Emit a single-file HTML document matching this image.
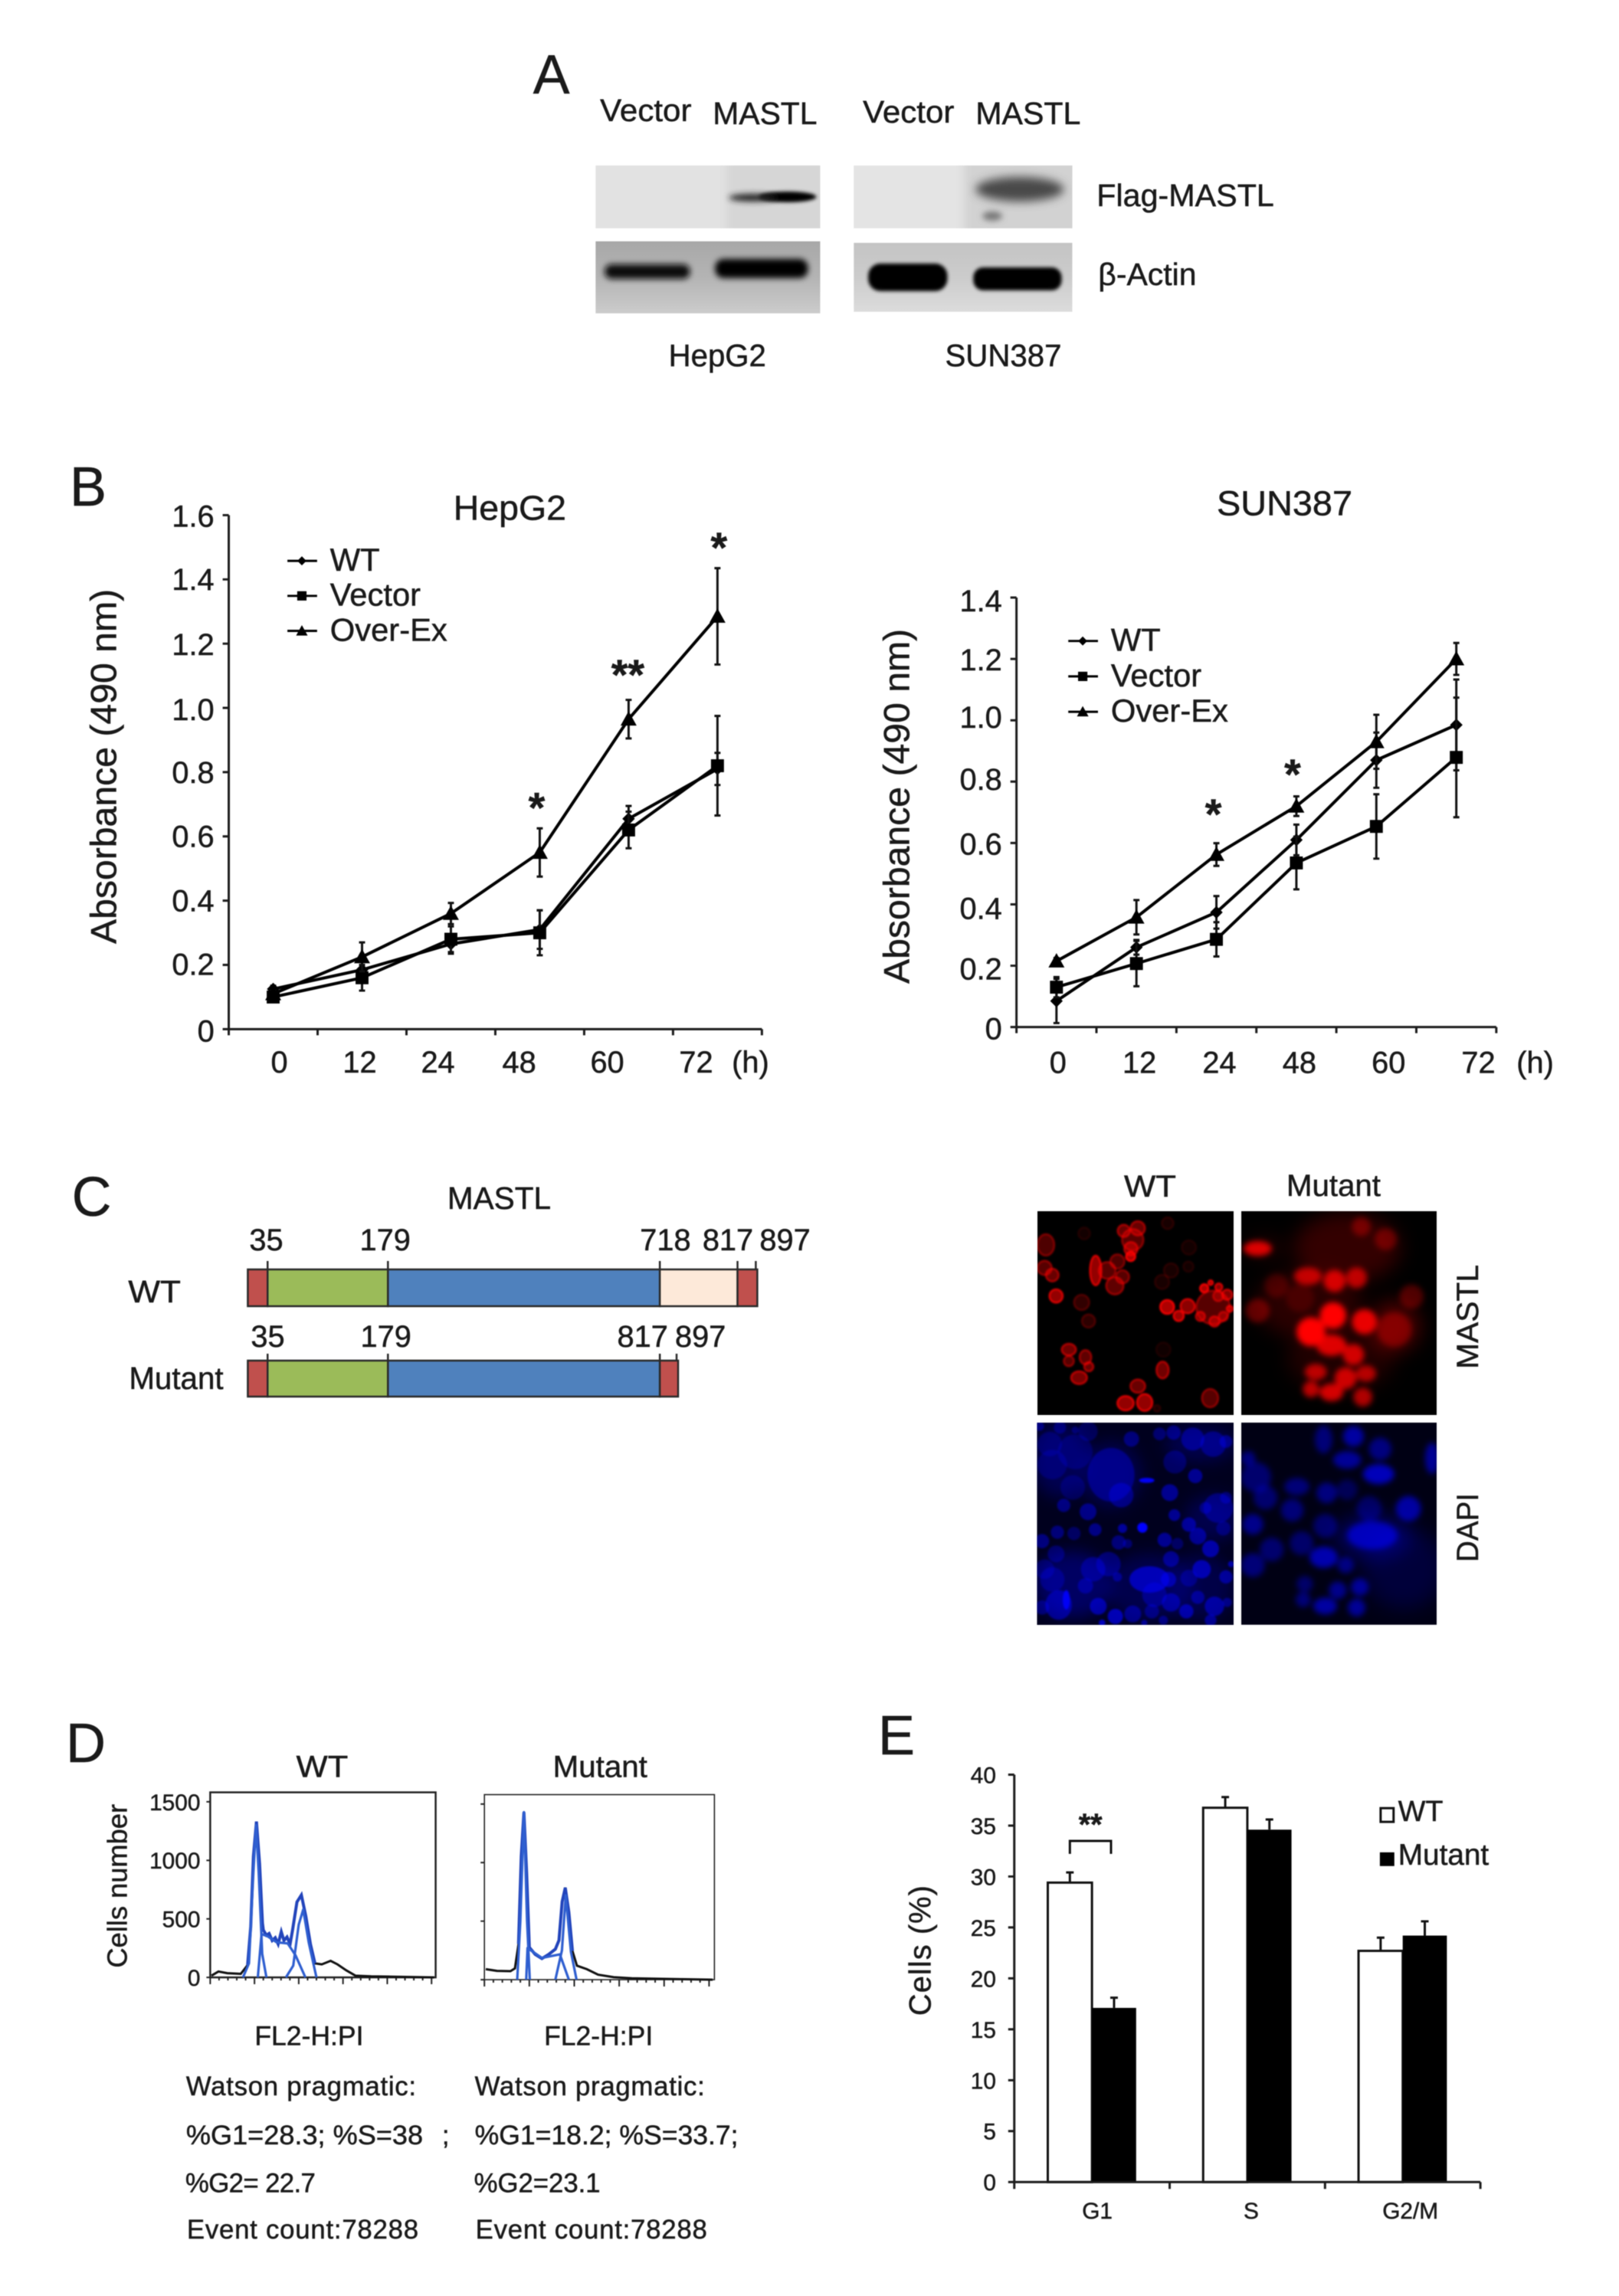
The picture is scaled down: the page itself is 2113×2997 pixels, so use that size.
<!DOCTYPE html>
<html lang="en">
<head>
<meta charset="utf-8">
<title>MASTL figure</title>
<style>
html,body{margin:0;padding:0;background:#fff;}
#figure{display:block;width:2113px;height:2997px;filter:blur(0.6px);}
text{font-family:"Liberation Sans",Arial,sans-serif;fill:#1a1a1a;stroke:#1a1a1a;stroke-width:0.5px;}
</style>
</head>
<body>
<svg id="figure" xmlns="http://www.w3.org/2000/svg" width="2113" height="2997" viewBox="0 0 2113 2997">
<defs>
<filter id="b2" x="-50%" y="-100%" width="200%" height="300%"><feGaussianBlur stdDeviation="2.5"/></filter>
<filter id="b3" x="-50%" y="-100%" width="200%" height="300%"><feGaussianBlur stdDeviation="4"/></filter>
<filter id="b6" x="-50%" y="-100%" width="200%" height="300%"><feGaussianBlur stdDeviation="6"/></filter>
<filter id="crisp" x="-20%" y="-20%" width="140%" height="140%"><feGaussianBlur stdDeviation="3.2"/></filter>
<filter id="soft3" x="-30%" y="-30%" width="160%" height="160%"><feGaussianBlur stdDeviation="9"/></filter>
<filter id="cloud" x="-50%" y="-50%" width="200%" height="200%"><feGaussianBlur stdDeviation="30"/></filter>
<clipPath id="clipR1"><rect x="12" y="18" width="768" height="798"/></clipPath>
<clipPath id="clipB1"><rect x="10" y="6" width="770" height="792"/></clipPath>
<clipPath id="clipR2"><rect x="683" y="173" width="622" height="649"/></clipPath>
<clipPath id="clipB2"><rect x="683" y="846" width="622" height="644"/></clipPath>
<clipPath id="clipBlot1"><rect x="778" y="216" width="295" height="82"/></clipPath>
<clipPath id="clipBlot2"><rect x="778" y="315" width="295" height="94"/></clipPath>
<clipPath id="clipBlot3"><rect x="1117" y="216" width="287" height="82"/></clipPath>
<clipPath id="clipBlot4"><rect x="1117" y="317" width="287" height="90"/></clipPath>
<linearGradient id="gradBlot2" x1="0" y1="0" x2="0" y2="1"><stop offset="0" stop-color="#a8a8a8"/><stop offset="0.5" stop-color="#b4b4b4"/><stop offset="1" stop-color="#cccccc"/></linearGradient>
<linearGradient id="gradBlot4" x1="0" y1="0" x2="0" y2="1"><stop offset="0" stop-color="#c4c4c4"/><stop offset="0.5" stop-color="#cccccc"/><stop offset="1" stop-color="#dcdcdc"/></linearGradient>
</defs>
<rect x="0" y="0" width="2113" height="2997" fill="#ffffff"/>

<g transform="translate(3.9,0) scale(0.994,1)">
<text x="696" y="122" font-size="72">A</text>
<text x="784" y="158" font-size="41" textLength="120" lengthAdjust="spacingAndGlyphs">Vector</text>
<text x="932" y="162" font-size="41" textLength="137" lengthAdjust="spacingAndGlyphs">MASTL</text>
<text x="1129" y="160" font-size="41" textLength="120" lengthAdjust="spacingAndGlyphs">Vector</text>
<text x="1277" y="162" font-size="41" textLength="138" lengthAdjust="spacingAndGlyphs">MASTL</text>
<g clip-path="url(#clipBlot1)">
<rect x="778" y="216" width="295" height="82" fill="#e2e2e2"/>
<rect x="950" y="200" width="140" height="110" fill="#d6d6d6" filter="url(#b6)"/>
<ellipse cx="1030" cy="257" rx="38" ry="7" fill="#000" filter="url(#b2)"/>
<ellipse cx="985" cy="258" rx="32" ry="5" fill="#222" filter="url(#b3)"/>
</g>
<g clip-path="url(#clipBlot2)">
<rect x="778" y="315" width="295" height="94" fill="url(#gradBlot2)"/>
<rect x="790" y="345" width="112" height="19" rx="9" fill="#111" filter="url(#b3)"/>
<rect x="935" y="338" width="122" height="25" rx="11" fill="#000" filter="url(#b3)"/>
</g>
<g clip-path="url(#clipBlot3)">
<rect x="1117" y="216" width="287" height="82" fill="#e4e4e4"/>
<rect x="1262" y="200" width="160" height="110" fill="#d2d2d2" filter="url(#b6)"/>
<ellipse cx="1335" cy="247" rx="58" ry="16" fill="#4a4a4a" filter="url(#b6)"/>
<ellipse cx="1299" cy="282" rx="13" ry="6" fill="#777" filter="url(#b3)"/>
</g>
<g clip-path="url(#clipBlot4)">
<rect x="1117" y="317" width="287" height="90" fill="url(#gradBlot4)"/>
<rect x="1136" y="344" width="104" height="36" rx="16" fill="#000" filter="url(#b2)"/>
<rect x="1274" y="349" width="116" height="30" rx="13" fill="#000" filter="url(#b2)"/>
</g>
<text x="1436" y="269" font-size="41" textLength="233" lengthAdjust="spacingAndGlyphs">Flag-MASTL</text>
<text x="1438" y="372" font-size="41" textLength="129" lengthAdjust="spacingAndGlyphs">β-Actin</text>
<text x="874" y="478" font-size="41" textLength="128" lengthAdjust="spacingAndGlyphs">HepG2</text>
<text x="1237" y="478" font-size="41" textLength="153" lengthAdjust="spacingAndGlyphs">SUN387</text>
</g>

<text x="91" y="660" font-size="72">B</text>
<g id="chartHep" transform="translate(0.36,3.48) scale(0.994)"></g>
<g id="chartSun" transform="translate(6.6,3.72) scale(0.994)"></g>

<g transform="translate(0.36,0) scale(0.994,1)">
<text x="94" y="1587" font-size="72">C</text>
<text x="587" y="1578" font-size="41" textLength="136" lengthAdjust="spacingAndGlyphs">MASTL</text>
<g font-size="40">
<text x="327" y="1632">35</text>
<text x="472" y="1632">179</text>
<text x="840" y="1632">718</text>
<text x="922" y="1632">817</text>
<text x="997" y="1632">897</text>
</g>
<text x="168" y="1700" font-size="41" textLength="69" lengthAdjust="spacingAndGlyphs">WT</text>
<g stroke="#2a2a2a" stroke-width="2.5">
<rect x="325" y="1657" width="26" height="48" fill="#c0504d"/>
<rect x="351" y="1657" width="158" height="48" fill="#9bbb59"/>
<rect x="509" y="1657" width="357" height="48" fill="#4f81bd"/>
<rect x="866" y="1657" width="102" height="48" fill="#fde9d9"/>
<rect x="968" y="1657" width="26" height="48" fill="#c0504d"/>
<path fill="none" d="M351 1646V1657M509 1646V1657M866 1646V1657M968 1646V1657M992 1646V1657"/>
</g>
<g font-size="40">
<text x="329" y="1758">35</text>
<text x="473" y="1758">179</text>
<text x="810" y="1758">817</text>
<text x="886" y="1758">897</text>
</g>
<text x="169" y="1813" font-size="41" textLength="124" lengthAdjust="spacingAndGlyphs">Mutant</text>
<g stroke="#2a2a2a" stroke-width="2.5">
<rect x="325" y="1776" width="26" height="47" fill="#c0504d"/>
<rect x="351" y="1776" width="158" height="47" fill="#9bbb59"/>
<rect x="509" y="1776" width="357" height="47" fill="#4f81bd"/>
<rect x="866" y="1776" width="24" height="47" fill="#c0504d"/>
<path fill="none" d="M351 1767V1776M509 1767V1776M866 1767V1776M888 1767V1776"/>
</g>
</g>

<g>
<text x="1467" y="1562" font-size="40" textLength="68" lengthAdjust="spacingAndGlyphs">WT</text>
<text x="1679" y="1561" font-size="40" textLength="123" lengthAdjust="spacingAndGlyphs">Mutant</text>
<g transform="translate(1350,1575) scale(0.33333)">
<g id="panelR1" clip-path="url(#clipR1)"><rect x="12" y="18" width="768" height="798" fill="#000"/></g>
</g>
<g transform="translate(1350,1855) scale(0.33333)">
<g id="panelB1" clip-path="url(#clipB1)"><rect x="10" y="6" width="770" height="792" fill="#00001e"/></g>
</g>
<g transform="translate(1340,1510) scale(0.41)">
<g id="panelR2" clip-path="url(#clipR2)"><rect x="683" y="173" width="622" height="649" fill="#000"/></g>
<g id="panelB2" clip-path="url(#clipB2)"><rect x="683" y="846" width="622" height="644" fill="#000014"/></g>
</g>
<text transform="translate(1929,1719) rotate(-90)" text-anchor="middle" font-size="40" textLength="136" lengthAdjust="spacingAndGlyphs">MASTL</text>
<text transform="translate(1929,1994) rotate(-90)" text-anchor="middle" font-size="40" textLength="90" lengthAdjust="spacingAndGlyphs">DAPI</text>
</g>

<text x="86" y="2300" font-size="72">D</text>
<g id="histWT" transform="translate(2,12.6) scale(0.994)"></g>
<g id="histMut" transform="translate(2,12.6) scale(0.994)"></g>
<g transform="translate(0.36,14.6) scale(0.994)">
<text transform="translate(166,2462) rotate(-90)" text-anchor="middle" font-size="36" textLength="215" lengthAdjust="spacingAndGlyphs">Cells number</text>
<g font-size="35">
<text x="334" y="2671" textLength="143" lengthAdjust="spacingAndGlyphs">FL2-H:PI</text>
<text x="244" y="2737" textLength="302" lengthAdjust="spacing">Watson pragmatic:</text>
<text x="244" y="2801" textLength="311" lengthAdjust="spacingAndGlyphs">%G1=28.3; %S=38</text>
<text x="580" y="2801">;</text>
<text x="243" y="2864" textLength="171" lengthAdjust="spacing">%G2= 22.7</text>
<text x="245" y="2925" textLength="304" lengthAdjust="spacing">Event count:78288</text>
</g>
<g font-size="35">
<text x="714" y="2671" textLength="143" lengthAdjust="spacingAndGlyphs">FL2-H:PI</text>
<text x="623" y="2737" textLength="302" lengthAdjust="spacing">Watson pragmatic:</text>
<text x="623" y="2801" textLength="346" lengthAdjust="spacingAndGlyphs">%G1=18.2; %S=33.7;</text>
<text x="622" y="2864" textLength="166" lengthAdjust="spacingAndGlyphs">%G2=23.1</text>
<text x="624" y="2925" textLength="304" lengthAdjust="spacing">Event count:78288</text>
</g>
</g>

<text x="1146" y="2290" font-size="72">E</text>
<g id="chartBars" transform="translate(6.72,11.4) scale(0.994)"></g>

<script>
/* ---------- Panel B data ---------- */
const timeCategories = ['0', '12', '24', '48', '60', '72'];
const hepTicks = ['0', '0.2', '0.4', '0.6', '0.8', '1.0', '1.2', '1.4', '1.6'];
const sunTicks = ['0', '0.2', '0.4', '0.6', '0.8', '1.0', '1.2', '1.4'];
const hepWT = [0.125, 0.185, 0.265, 0.31, 0.655, 0.81];
const hepVector = [0.10, 0.16, 0.28, 0.30, 0.62, 0.82];
const hepOverEx = [0.11, 0.225, 0.36, 0.55, 0.965, 1.285];
const hepWTErr = [0.01, 0.03, 0.03, 0.06, 0.04, 0.05];
const hepVectorErr = [0.01, 0.04, 0.04, 0.07, 0.057, 0.155];
const hepOverExErr = [0.01, 0.045, 0.033, 0.075, 0.06, 0.15];
const sunWT = [0.085, 0.26, 0.374, 0.61, 0.87, 0.985];
const sunVector = [0.13, 0.207, 0.286, 0.535, 0.654, 0.879];
const sunOverEx = [0.215, 0.358, 0.5625, 0.72, 0.93, 1.2];
const sunWTErr = [0.072, 0.024, 0.053, 0.05, 0.09, 0.148];
const sunVectorErr = [0.033, 0.074, 0.056, 0.086, 0.105, 0.195];
const sunOverExErr = [0.01, 0.056, 0.037, 0.032, 0.088, 0.052];

/* ---------- Panel D data ---------- */
const wtChannels = [6, 37, 77, 138, 169, 183, 195, 209, 223, 236, 240, 254, 266, 280, 294, 307, 321, 333, 347, 361, 372, 392, 412, 432, 453, 473, 504, 544, 575, 615, 656, 727, 1011];
const wtCounts = [15, 50, 36, 30, 105, 434, 1033, 1332, 973, 464, 405, 360, 375, 315, 339, 285, 390, 315, 345, 285, 404, 644, 704, 524, 284, 120, 111, 141, 111, 60, 15, 9, 0];
const wtG1Channels = [148, 175, 195, 207, 219, 235, 254];
const wtG1Counts = [0, 120, 900, 1300, 900, 200, 0];
const wtSChannels = [215, 232, 260, 300, 350, 385, 430];
const wtSCounts = [0, 370, 350, 300, 290, 190, 0];
const wtG2Channels = [342, 375, 400, 420, 445, 480];
const wtG2Counts = [0, 100, 450, 580, 300, 0];
const mutChannels = [6, 56, 116, 136, 152, 164, 176, 188, 200, 226, 256, 286, 316, 332, 346, 360, 376, 392, 412, 456, 506, 576, 656, 1016];
const mutCounts = [90, 75, 72, 96, 306, 1056, 1431, 906, 276, 216, 180, 216, 261, 336, 666, 786, 576, 246, 120, 90, 42, 21, 12, 0];
const mutG1Channels = [146, 160, 176, 190, 202];
const mutG1Counts = [0, 500, 1431, 500, 0];
const mutSChannels = [186, 192, 256, 336, 376];
const mutSCounts = [0, 270, 186, 216, 0];
const mutG2Channels = [316, 345, 362, 385, 410];
const mutG2Counts = [0, 250, 720, 240, 0];
const histYTicks = ['0', '500', '1000', '1500'];

/* ---------- Panel E data ---------- */
const phaseCategories = ['G1', 'S', 'G2/M'];
const wtPercent = [29.4, 36.75, 22.7];
const mutantPercent = [17.1, 34.6, 24.2];
const wtPercentErr = [1, 1.05, 1.3];
const mutantPercentErr = [1, 1, 1.4];
const percentTicks = ['0', '5', '10', '15', '20', '25', '30', '35', '40'];

const NS = 'http://www.w3.org/2000/svg';
function svgEl(tag, attrs, parent) {
  const el = document.createElementNS(NS, tag);
  for (const k in attrs) el.setAttribute(k, attrs[k]);
  parent.appendChild(el);
  return el;
}
function linePath(xs, ys) {
  return xs.map((x, i) => (i ? 'L' : 'M') + x.toFixed(1) + ' ' + ys[i].toFixed(1)).join('');
}
function drawMarker(kind, x, y, size, parent) {
  if (kind === 'square') {
    return svgEl('rect', { x: x - size / 2, y: y - size / 2, width: size, height: size, fill: '#000' }, parent);
  }
  if (kind === 'triangle') {
    const r = size * 0.62;
    return svgEl('polygon', { points: [x, y - r, x + r, y + r * 0.8, x - r, y + r * 0.8].join(' '), fill: '#000' }, parent);
  }
  const r = size * 0.55;
  return svgEl('polygon', { points: [x, y - r, x + r, y, x, y + r, x - r, y].join(' '), fill: '#000' }, parent);
}

function drawLineChart(g, cfg) {
  const yScale = v => cfg.y0 - (v / cfg.yMax) * (cfg.y0 - cfg.yTop);
  const band = (cfg.xRight - cfg.x0) / cfg.categories.length;
  const xScale = i => cfg.x0 + band * (i + 0.5);

  const axes = svgEl('path', { d: '', stroke: '#1c1c1c', 'stroke-width': 3, fill: 'none' }, g);
  
  
  let d = 'M' + cfg.x0 + ' ' + cfg.yTop + 'V' + cfg.y0 + 'H' + cfg.xRight;
  cfg.ticks.forEach((t, i) => {
    const y = yScale(cfg.yMax * i / (cfg.ticks.length - 1));
    d += 'M' + (cfg.x0 - 8) + ' ' + y + 'H' + cfg.x0;
    const label = svgEl('text', { x: cfg.x0 - 19, y: y + 14 + cfg.tickNudge[i], 'text-anchor': 'end', 'font-size': 40 }, g);
    
    
    label.textContent = t;
  });
  for (let i = 0; i <= cfg.categories.length; i++) {
    const x = cfg.x0 + band * i;
    d += 'M' + x + ' ' + cfg.y0 + 'v8';
  }
  axes.setAttribute('d', d);

  cfg.categories.forEach((c, i) => {
    const label = svgEl('text', { x: xScale(i) + cfg.labelNudge[i], y: cfg.labelY, 'text-anchor': 'middle', 'font-size': 40 }, g);
    
    
    label.textContent = c;
  });
  const unit = svgEl('text', { x: cfg.unitX, y: cfg.labelY, 'text-anchor': 'middle', 'font-size': 40 }, g);
  
  
  unit.textContent = '(h)';

  const title = svgEl('text', { x: cfg.titleX, y: cfg.titleY, 'font-size': 46, textLength: cfg.titleW, lengthAdjust: 'spacingAndGlyphs' }, g);
  
  
  title.textContent = cfg.title;

  const yTitle = svgEl('text', { transform: 'translate(' + cfg.yTitleX + ',' + cfg.yTitleY + ') rotate(-90)', 'text-anchor': 'middle', 'font-size': 48, textLength: 466, lengthAdjust: 'spacingAndGlyphs' }, g);
  
  
  yTitle.textContent = 'Absorbance (490 nm)';

  cfg.series.forEach(s => {
    const sg = svgEl('g', {}, g);
    
    
    const xs = s.values.map((v, i) => xScale(i));
    const ys = s.values.map(v => yScale(v));
    s.values.forEach((v, i) => {
      const top = yScale(v + s.err[i]);
      const bot = yScale(Math.max(0, v - s.err[i]));
      const bar = svgEl('path', { d: 'M' + (xs[i] - 4) + ' ' + top + 'h8M' + xs[i] + ' ' + top + 'V' + bot + 'M' + (xs[i] - 4) + ' ' + bot + 'h8', stroke: '#111', 'stroke-width': 3, fill: 'none' }, sg);
      
      
    });
    const line = svgEl('path', { d: linePath(xs, ys), stroke: '#000', 'stroke-width': 4, fill: 'none', 'stroke-linejoin': 'round' }, sg);
    
    
    s.values.forEach((v, i) => {
      const m = drawMarker(s.marker, xs[i], ys[i], s.size, sg);
      
      
    });
  });

  cfg.series.forEach((s, i) => {
    const ly = cfg.legendY + i * cfg.legendStep;
    const lg = svgEl('g', {}, g);
    
    
    svgEl('path', { d: 'M' + cfg.legendX + ' ' + ly + 'h39', stroke: '#000', 'stroke-width': 3 }, lg);
    drawMarker(s.marker, cfg.legendX + 19, ly, s.size * 0.72, lg);
    const t = svgEl('text', { x: cfg.legendX + 56, y: ly + 13, 'font-size': 42 }, lg);
    t.textContent = s.name;
  });

  cfg.stars.forEach(st => {
    const t = svgEl('text', { x: xScale(st.index) + st.dx, y: yScale(st.value) + st.dy, 'text-anchor': 'middle', 'font-size': 56, 'font-weight': 'bold' }, g);
    
    
    t.textContent = st.text;
  });
}

drawLineChart(document.getElementById('chartHep'), {
  categories: timeCategories, ticks: hepTicks, yMax: 1.6, x0: 300, xRight: 1000, y0: 1348, yTop: 673,
  tickNudge: [2, -1, 0, 0, 0, 2, 1, 0, 1],
  labelNudge: [8, -3, -17, -27, -28, -28], labelY: 1405, unitX: 985,
  title: 'HepG2', titleX: 595, titleY: 679, titleW: 148, yTitleX: 152, yTitleY: 1003,
  legendX: 377, legendY: 733, legendStep: 46,
  series: [
    { name: 'WT', values: hepWT, err: hepWTErr, marker: 'diamond', size: 15 },
    { name: 'Vector', values: hepVector, err: hepVectorErr, marker: 'square', size: 17 },
    { name: 'Over-Ex', values: hepOverEx, err: hepOverExErr, marker: 'triangle', size: 17 }
  ],
  stars: [
    { index: 3, value: 0.76, dx: -4, dy: 49, text: '*' },
    { index: 4, value: 1.2, dx: -1, dy: 60, text: '**' },
    { index: 5, value: 1.52, dx: 2, dy: 28, text: '*' }
  ]
});
drawLineChart(document.getElementById('chartSun'), {
  categories: timeCategories, ticks: sunTicks, yMax: 1.4, x0: 1328, xRight: 1958, y0: 1345, yTop: 781,
  tickNudge: [2, 4, 5, 1, -3, -4, 1, 4],
  labelNudge: [2, 4, 4, 4, 16, 29], labelY: 1405, unitX: 2009,
  title: 'SUN387', titleX: 1591, titleY: 673, titleW: 178, yTitleX: 1187, yTitleY: 1055,
  legendX: 1396, legendY: 838, legendStep: 46.5,
  series: [
    { name: 'WT', values: sunWT, err: sunWTErr, marker: 'diamond', size: 15 },
    { name: 'Vector', values: sunVector, err: sunVectorErr, marker: 'square', size: 17 },
    { name: 'Over-Ex', values: sunOverEx, err: sunOverExErr, marker: 'triangle', size: 17 }
  ],
  stars: [
    { index: 2, value: 0.71, dx: -4, dy: 26, text: '*' },
    { index: 3, value: 0.84, dx: -5, dy: 26, text: '*' }
  ]
});

function drawHistogram(g, cfg) {
  const xScale = c => cfg.x0 + c * cfg.xPerChannel;
  const yScale = n => cfg.y0 - n * cfg.yPerCount;
  const frame = svgEl('rect', { x: cfg.x0, y: cfg.yTop, width: cfg.w, height: cfg.y0 - cfg.yTop, fill: 'none', stroke: '#222', 'stroke-width': cfg.frameW }, g);
  
  
  let d = '';
  for (let c = 0; c <= 1000; c += 40) {
    d += 'M' + xScale(c) + ' ' + cfg.y0 + 'v' + (c % 200 === 0 ? 9 : 4);
  }
  histYTicks.forEach((t, i) => {
    const y = yScale(i * 500);
    d += 'M' + (cfg.x0 - 5) + ' ' + y + 'h5';
    if (cfg.labels) {
      const label = svgEl('text', { x: 261, y: y + 11, 'text-anchor': 'end', 'font-size': 30 }, g);
      
      
      label.textContent = t;
    }
  });
  const ticks = svgEl('path', { d: d, stroke: '#222', 'stroke-width': 2, fill: 'none' }, g);
  
  
  const total = svgEl('path', { d: linePath(cfg.channels.map(xScale), cfg.counts.map(yScale)), stroke: '#111', 'stroke-width': 3, fill: 'none' }, g);
  
  
  const bc = cfg.channels.filter(c => c >= cfg.blueFrom && c <= cfg.blueTo);
  const bn = cfg.counts.filter((n, i) => cfg.channels[i] >= cfg.blueFrom && cfg.channels[i] <= cfg.blueTo);
  const fit = svgEl('path', { d: linePath(bc.map(xScale), bn.map(yScale)), stroke: '#2244bb', 'stroke-width': 4, fill: 'none' }, g);
  
  
  cfg.comps.forEach(cp => {
    const p = svgEl('path', { d: linePath(cp.c.map(xScale), cp.n.map(yScale)), stroke: '#2f5fd0', 'stroke-width': 3.2, fill: 'none', 'stroke-linejoin': 'round' }, g);
    
    
  });
  const title = svgEl('text', { x: cfg.titleX, y: 2321, 'font-size': 40, textLength: cfg.titleW, lengthAdjust: 'spacingAndGlyphs' }, g);
  
  
  title.textContent = cfg.title;
}
drawHistogram(document.getElementById('histWT'), {
  x0: 274, yTop: 2341, y0: 2584, w: 296, xPerChannel: 0.2906, yPerCount: 0.1537, frameW: 2.5, labels: true,
  channels: wtChannels, counts: wtCounts, blueFrom: 169, blueTo: 473,
  title: 'WT', titleX: 387, titleW: 68,
  comps: [
    { name: 'g1-fit', c: wtG1Channels, n: wtG1Counts },
    { name: 's-phase-fit', c: wtSChannels, n: wtSCounts },
    { name: 'g2-fit', c: wtG2Channels, n: wtG2Counts }
  ]
});
drawHistogram(document.getElementById('histMut'), {
  x0: 634, yTop: 2344, y0: 2587, w: 302, xPerChannel: 0.295, yPerCount: 0.1537, frameW: 1.6, labels: false,
  channels: mutChannels, counts: mutCounts, blueFrom: 152, blueTo: 392,
  title: 'Mutant', titleX: 724, titleW: 124,
  comps: [
    { name: 'g1-fit', c: mutG1Channels, n: mutG1Counts },
    { name: 's-phase-fit', c: mutSChannels, n: mutSCounts },
    { name: 'g2-fit', c: mutG2Channels, n: mutG2Counts }
  ]
});

(function drawBars() {
  const g = document.getElementById('chartBars');
  const x0 = 1325, xRight = 1937, y0 = 2854, yTop = 2319, yMax = 40, barW = 58;
  const yScale = v => y0 - (v / yMax) * (y0 - yTop);
  const band = (xRight - x0) / phaseCategories.length;
  const center = i => x0 + band * (i + 0.5);
  phaseCategories.forEach((c, i) => {
    const err1 = svgEl('path', { d: 'M' + (center(i) - barW / 2) + ' ' + yScale(wtPercent[i]) + 'V' + yScale(wtPercent[i] + wtPercentErr[i]) + 'm-5 0h10', stroke: '#111', 'stroke-width': 3, fill: 'none' }, g);
    
    
    const err2 = svgEl('path', { d: 'M' + (center(i) + barW / 2) + ' ' + yScale(mutantPercent[i]) + 'V' + yScale(mutantPercent[i] + mutantPercentErr[i]) + 'm-5 0h10', stroke: '#111', 'stroke-width': 3, fill: 'none' }, g);
    
    
    const b1 = svgEl('rect', { x: center(i) - barW, y: yScale(wtPercent[i]), width: barW, height: y0 - yScale(wtPercent[i]), fill: '#fff', stroke: '#111', 'stroke-width': 3 }, g);
    
    
    const b2 = svgEl('rect', { x: center(i), y: yScale(mutantPercent[i]), width: barW, height: y0 - yScale(mutantPercent[i]), fill: '#000' }, g);
    
    
    const nudge = i === 0 ? 7 : (i === 1 ? 5 : 10);
    const label = svgEl('text', { x: center(i) + nudge, y: 2902, 'text-anchor': 'middle', 'font-size': 30 }, g);
    
    
    label.textContent = c;
  });
  let d = 'M' + x0 + ' ' + yTop + 'V' + y0 + 'H' + xRight;
  percentTicks.forEach((t, i) => {
    const y = yScale(yMax * i / (percentTicks.length - 1));
    d += 'M' + (x0 - 8) + ' ' + y + 'H' + x0;
    const label = svgEl('text', { x: 1301, y: y + 11, 'text-anchor': 'end', 'font-size': 30 }, g);
    
    
    label.textContent = t;
  });
  for (let i = 0; i <= phaseCategories.length; i++) d += 'M' + (x0 + band * i) + ' ' + y0 + 'v9';
  const axes = svgEl('path', { d: d, stroke: '#1c1c1c', 'stroke-width': 3, fill: 'none' }, g);
  
  
  const yt = svgEl('text', { transform: 'translate(1215,2550) rotate(-90)', 'text-anchor': 'middle', 'font-size': 40, textLength: 171, lengthAdjust: 'spacing' }, g);
  
  
  yt.textContent = 'Cells (%)';
  const br = svgEl('path', { d: 'M1398 2423V2406H1452V2423', stroke: '#111', 'stroke-width': 3, fill: 'none' }, g);
  
  
  const st = svgEl('text', { x: 1425, y: 2398, 'text-anchor': 'middle', 'font-size': 40, 'font-weight': 'bold' }, g);
  
  
  st.textContent = '**';
  const s1 = svgEl('rect', { x: 1806, y: 2363, width: 17, height: 18, fill: '#fff', stroke: '#111', 'stroke-width': 3 }, g);
  
  
  const t1 = svgEl('text', { x: 1829, y: 2380, 'font-size': 38 }, g);
  
  
  t1.textContent = 'WT';
  const s2 = svgEl('rect', { x: 1805, y: 2421, width: 19, height: 18, fill: '#000' }, g);
  
  
  const t2 = svgEl('text', { x: 1829, y: 2437, 'font-size': 39 }, g);
  
  
  t2.textContent = 'Mutant';
})();

/* ---------- Microscopy images: approximated cell blobs ---------- */
function paintCells(id, list, color, filter, ring) {
  const host = document.getElementById(id);
  const g = svgEl('g', { filter: 'url(#' + filter + ')' }, host);
  list.forEach(c => {
    const attrs = { cx: c[0], cy: c[1], rx: c[2], ry: c[4] || c[2], fill: color, 'fill-opacity': ring ? c[3] * 0.68 : c[3] };
    if (ring) {
      attrs.stroke = color;
      attrs['stroke-opacity'] = c[3];
      attrs['stroke-width'] = 7;
    }
    svgEl('ellipse', attrs, g);
  });
}
paintCells('panelR1', [
  [45,150,33,.45,42],[40,240,28,.5],[70,268,25,.6],[85,350,26,.85],[185,375,30,.28],[212,448,26,.26],
  [350,95,24,.6],[405,85,28,.6],[385,130,42,.5],[378,165,26,.65],[377,195,18,1],
  [240,250,22,.85,58],[285,250,33,.5],[325,215,28,.45],[345,275,26,.5],[315,310,34,.55],
  [520,393,27,1],[565,428,20,.9],[600,390,28,.8],[700,395,66,.5],[665,320,16,1],[690,298,9,.9],[722,315,14,.8],[755,345,20,.75],[765,400,12,.8],[705,450,20,.7],[650,430,18,.65],[720,350,20,.55],[740,430,18,.55],
  [135,560,28,.65,23],[135,605,20,.5],[200,590,23,.55,28],[213,627,18,.6],[175,670,31,.7,25],[502,640,24,.65,33],[405,703,29,.6,26],[357,770,32,.85,28],[432,767,30,.85,33],[688,750,32,.5,36],
  [522,65,23,.14],[195,105,23,.11],[605,160,28,.11],[535,250,28,.14],[603,235,20,.11],[500,295,28,.14],[505,560,28,.09],[480,790,13,.14]
], '#ff0000', 'crisp', true);
paintCells('panelR2', [
  [1020,290,170,.2,110],[900,470,170,.16,110],[1170,540,80,.3],[1000,640,170,.12,110],[760,290,60,.14,28]
], '#ff0000', 'cloud', false);
paintCells('panelR2', [
  [735,292,45,.85,24],[1065,222,30,.35],[1143,262,35,.32],[895,380,44,.72,28],[980,395,35,.8],[1050,385,33,.7],[795,410,38,.2],
  [975,505,42,1],[905,557,46,1],[1075,525,40,.9],[970,600,48,.85,34],[1040,630,34,.8],[1170,550,55,.32],[1225,445,38,.3],
  [920,685,35,.7,26],[1015,705,35,.78],[1080,690,32,.68,26],[905,740,26,.72],[970,750,38,.82,28],[1070,765,30,.68],[735,490,38,.35],[870,450,45,.15]
], '#ff0000', 'soft3', false);
paintCells('panelB1', [
  [100,150,110,.22,150],[300,210,120,.2,130],[650,90,140,.2,70],[700,380,110,.2,90],[150,640,150,.3,130],[450,650,170,.2,130],[650,650,130,.18,130]
], '#0000ff', 'cloud', false);
paintCells('panelB1', [
  [380,70,30,.4],[490,50,25,.35],[545,45,28,.4],[620,70,45,.4],[700,90,50,.35],[750,80,25,.4],[550,160,45,.3],[630,215,28,.5],[530,280,33,.5],[440,232,30,.95,10],
  [300,210,92,.35,105],[340,290,48,.38],[160,120,68,.22],[210,40,38,.25],[100,25,24,.3],[70,170,58,.22],[60,90,48,.22],[115,330,26,.42],[210,355,33,.45],[150,260,48,.22],
  [90,435,26,.4],[155,440,26,.3],[238,425,25,.45],[345,420,18,.55],[330,475,28,.4],[365,480,18,.35],[423,417,20,1],[548,368,23,.5],[605,405,28,.5],[640,450,33,.48],
  [510,465,28,.5],[560,480,23,.3],[690,500,33,.58],[535,540,31,.45],[655,580,36,.58],[750,610,26,.48],[770,560,12,.6],[720,340,58,.35,58],[750,300,23,.35],[670,340,23,.35],
  [740,420,28,.3],[30,470,28,.42],[85,520,33,.3],[70,620,48,.28],[40,580,38,.25],[95,720,52,.45,58],[125,700,14,.9,38],[200,645,30,.38],[230,580,48,.35],[290,560,48,.35],
  [325,610,18,.4],[450,620,78,.6,52],[525,620,30,.5],[470,680,48,.35],[250,725,33,.55],[317,765,30,.65],[385,755,33,.42],[460,745,28,.35],[535,710,36,.45],[595,745,28,.55],
  [640,690,26,.42],[705,725,38,.5],[755,710,18,.4],[605,615,33,.3],[690,780,23,.48],[505,780,18,.4],[30,730,28,.35],[265,790,13,.7],[430,790,12,.5],[160,35,14,.3],[20,20,18,.4]
], '#0000ff', 'crisp', false);
paintCells('panelB2', [
  [1200,1310,130,.16],[1100,1210,120,.3,70]
], '#0000ff', 'cloud', false);
paintCells('panelB2', [
  [945,900,28,.42,45],[1040,890,33,.6],[1125,930,36,.45],[1020,965,45,.55,28],[1120,1010,50,.7,32],[705,960,23,.45],[1290,960,22,.55,50],[730,1020,48,.38],
  [860,1050,40,.42,28],[955,1070,33,.45],[1020,1060,33,.28],[760,1085,38,.38],[845,1125,36,.42],[1090,1120,40,.32],[1215,1120,40,.6],[720,1170,33,.5],[950,1175,38,.36],
  [875,1230,38,.36],[780,1250,38,.38],[1100,1205,80,.6,45],[945,1275,45,.65,34],[720,1300,38,.42],[1015,1300,26,.45],[885,1360,26,.36],[990,1380,28,.5],[1060,1370,28,.55],
  [880,1410,24,.42],[950,1430,38,.6,27],[1050,1435,28,.55]
], '#0000ff', 'soft3', false);
</script>
</svg>
</body>
</html>
